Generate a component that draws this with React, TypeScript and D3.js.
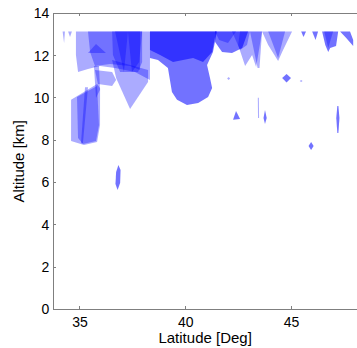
import React from "react";
import * as d3 from "d3";

// ---- data ----
const xTicks = [35, 40, 45];
const yTicks = [0, 2, 4, 6, 8, 10, 12, 14];
const xDomain = [33.74, 48.1];
const yDomain = [0, 14];

// cloud patches: polygons in [latitude (deg), altitude (km)]
const cloudPatches: [number, number][][] = [
  [[34.81,13.14],[38.31,13.14],[38.31,10.85],[37.60,11.22],[36.66,11.41],[35.95,11.51],[35.38,11.36],[34.91,11.22],[34.81,12.03]],
  [[35.38,13.14],[37.84,13.14],[37.84,11.32],[37.37,11.51],[36.42,11.60],[35.71,11.51],[35.48,12.17]],
  [[35.38,12.12],[35.76,12.55],[36.23,12.12]],
  [[36.52,13.14],[37.94,13.14],[37.94,11.70],[37.75,11.22],[36.90,11.22],[36.56,12.03]],
  [[36.52,11.79],[38.22,11.32],[38.22,10.75],[37.37,9.47],[36.71,10.94]],
  [[35.71,11.32],[36.52,11.22],[36.71,10.85],[36.52,10.56],[35.85,10.66]],
  [[35.66,11.51],[35.90,11.51],[35.95,10.39],[35.76,9.99]],
  [[34.58,9.91],[35.81,10.66],[35.95,10.47],[35.95,8.72],[35.81,7.91],[35.19,7.77],[34.58,7.96]],
  [[34.86,10.04],[35.81,10.56],[35.90,8.72],[35.76,7.96],[35.14,7.82],[34.91,8.10]],
  [[38.31,13.14],[41.48,13.14],[41.29,12.17],[41.01,11.56],[41.15,10.94],[41.25,10.47],[41.06,10.04],[40.59,9.76],[40.06,9.66],[39.59,9.91],[39.35,10.28],[39.16,11.41],[38.69,11.79],[38.31,11.89]],
  [[38.31,13.14],[41.44,13.14],[41.25,12.17],[40.82,11.70],[40.35,11.89],[39.40,11.70],[38.79,12.03],[38.31,12.27]],
  [[41.39,13.14],[42.95,13.14],[42.67,12.36],[42.19,12.12],[41.72,12.17],[41.39,12.64]],
  [[41.39,13.14],[42.38,13.14],[42.00,12.60],[41.58,12.74]],
  [[42.19,13.14],[43.04,13.14],[42.90,12.50],[42.57,12.27]],
  [[42.57,13.14],[43.61,13.14],[43.33,11.46],[43.14,12.03],[42.81,11.51],[42.48,12.50]],
  [[43.04,13.14],[43.61,13.14],[43.49,11.41],[43.40,11.41]],
  [[43.61,13.14],[45.03,13.14],[44.56,12.17],[44.37,11.74],[43.90,12.50]],
  [[43.90,13.14],[44.70,13.14],[44.37,11.89]],
  [[45.46,13.14],[45.69,13.14],[45.57,12.88]],
  [[45.98,13.14],[46.26,13.14],[46.14,12.74]],
  [[46.45,13.14],[47.21,13.14],[47.11,12.45],[46.83,12.36],[46.74,12.17],[46.60,12.50]],
  [[46.55,13.14],[46.97,13.14],[46.74,12.36]],
  [[47.30,13.14],[47.77,13.14],[47.92,12.74],[47.92,12.45],[47.59,12.83]],
  [[34.18,13.14],[34.29,13.14],[34.25,12.60]],
  [[34.44,13.14],[34.62,13.14],[34.53,12.88]],
  [[44.56,10.94],[44.77,11.13],[44.98,10.94],[44.77,10.73]],
  [[41.96,10.92],[42.03,10.99],[42.10,10.92],[42.03,10.85]],
  [[45.39,10.80],[45.46,10.85],[45.53,10.80],[45.46,10.75]],
  [[42.24,8.96],[42.38,9.38],[42.57,9.00]],
  [[43.75,9.43],[43.83,9.05],[43.75,8.77],[43.68,9.05]],
  [[43.41,10.00],[43.46,10.00],[43.47,9.05],[43.42,9.05]],
  [[47.17,9.62],[47.22,9.62],[47.27,9.05],[47.22,8.34],[47.17,8.34],[47.12,9.05]],
  [[45.93,7.91],[46.05,7.72],[45.93,7.53],[45.81,7.72]],
  [[36.82,6.83],[36.92,6.59],[36.90,5.97],[36.78,5.64],[36.68,5.93],[36.71,6.49]],
  [[36.66,13.14],[37.27,13.14],[37.08,11.22]],
  [[37.27,13.14],[37.94,13.14],[37.80,11.70],[37.46,11.22]],
  [[35.24,10.50],[35.38,10.50],[35.14,7.85],[35.05,7.85]],
];
// overlap count (density) of each patch
const patchDensity = [1,1,1,1,1,1,1,1,1,2,2,2,1,1,1,1,1,1,2,2,2,1,2,1,1,2,1,1,2,2,1,2,2,2,1,1,1];

const W = 357, H = 348;
const left = 53.3, right = 357, top = 13.3, bottom = 309.3;

export default function App() {
  const x = d3.scaleLinear().domain(xDomain).range([left, right]);
  const y = d3.scaleLinear().domain(yDomain).range([bottom, top]);
  const line = d3.line<[number, number]>().x(d => x(d[0])).y(d => y(d[1])).curve(d3.curveLinearClosed);
  const alpha = (k: number) => 1 - Math.pow(1 - 0.33, k);
  const axisColor = "#7f7f7f";
  const font = "'Liberation Sans', Arial, sans-serif";
  const tl = 3;
  return (
    <svg width={W} height={H} style={{ position: "absolute", left: 0, top: 0, background: "#fff" }}>
      <rect x={0} y={0} width={W} height={H} fill="#fff" />
      <g>
        {cloudPatches.map((p, i) => (
          <path key={i} d={line(p) || ""} fill="#0000ff" fillOpacity={alpha(patchDensity[i])} stroke="none" />
        ))}
      </g>
      <g stroke={axisColor} strokeWidth={1} fill="none" shapeRendering="crispEdges">
        <line x1={left} x2={right} y1={bottom} y2={bottom} />
        <line x1={left} x2={right} y1={top} y2={top} />
        <line x1={left} x2={left} y1={top} y2={bottom} />
        {xTicks.map(t => (
          <g key={t}>
            <line x1={x(t)} x2={x(t)} y1={bottom} y2={bottom - tl} />
            <line x1={x(t)} x2={x(t)} y1={top} y2={top + tl} />
          </g>
        ))}
        {yTicks.map(t => (
          <line key={t} x1={left} x2={left + tl} y1={y(t)} y2={y(t)} />
        ))}
      </g>
      <g fontFamily={font} fontSize={14} fill="#000">
        {xTicks.map(t => (
          <text key={t} x={x(t)} y={bottom + 18} textAnchor="middle">{t}</text>
        ))}
        {yTicks.map(t => (
          <text key={t} x={left - 4} y={y(t) + 5} textAnchor="end">{t}</text>
        ))}
      </g>
      <text x={(left + 357) / 2} y={343} textAnchor="middle" fontFamily={font} fontSize={15}>Latitude [Deg]</text>
      <text transform={`translate(24, ${(top + bottom) / 2}) rotate(-90)`} textAnchor="middle" fontFamily={font} fontSize={15}>Altitude [km]</text>
    </svg>
  );
}
